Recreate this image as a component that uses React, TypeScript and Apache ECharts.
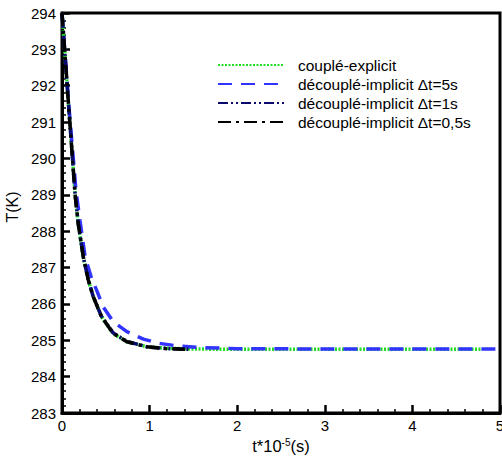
import React, { useEffect, useRef } from "react";
import * as echarts from "echarts";

const seriesNames = [
  "couplé-explicit",
  "découplé-implicit Δt=5s",
  "découplé-implicit Δt=1s",
  "découplé-implicit Δt=0,5s",
];

// couplé-explicit (green dotted)
const greenT = [0, 0.08, 0.15, 0.185, 0.24, 0.3, 0.355, 0.45, 0.58, 0.74, 0.97, 1.2, 1.5, 2, 3, 4, 4.8];
const greenV = [294, 291.3, 289.0, 288.2, 287.3, 286.66, 286.2, 285.65, 285.19, 284.96, 284.82, 284.78, 284.76, 284.75, 284.75, 284.75, 284.75];

// découplé-implicit Δt=5s (blue dashed)
const blueT = [0, 0.08, 0.16, 0.205, 0.263, 0.338, 0.395, 0.47, 0.585, 0.74, 0.93, 1.1, 1.3, 1.58, 2.0, 3.0, 4.0, 5.0];
const blueV = [294, 291.4, 289.1, 288.3, 287.3, 286.7, 286.38, 285.92, 285.51, 285.24, 285.03, 284.92, 284.85, 284.8, 284.77, 284.76, 284.76, 284.76];

// découplé-implicit Δt=1s (navy dash-dot-dot)
const navyT = [0, 0.08, 0.15, 0.186, 0.243, 0.3, 0.357, 0.45, 0.585, 0.74, 0.97, 1.2, 1.45];
const navyV = [294, 291.3, 289.0, 288.2, 287.3, 286.66, 286.2, 285.66, 285.2, 284.97, 284.82, 284.77, 284.75];

// découplé-implicit Δt=0,5s (black dash-dot)
const blackT = [0, 0.08, 0.15, 0.186, 0.243, 0.3, 0.357, 0.45, 0.585, 0.74, 0.97, 1.2, 1.42];
const blackV = [294, 291.3, 289.0, 288.2, 287.3, 286.66, 286.2, 285.65, 285.19, 284.96, 284.82, 284.77, 284.75];

const FONT = "'Liberation Sans', Arial, sans-serif";

const zip = (a: number[], b: number[]) => a.map((t, i) => [t, b[i]]);

export default function App() {
  const ref = useRef<HTMLDivElement>(null);
  useEffect(() => {
    const chart = echarts.init(ref.current!, null, { renderer: "svg" });
    const mk = (name: string, data: number[][], color: string, type: any, z: number) => ({
      name,
      type: "line",
      data,
      showSymbol: false,
      symbol: "none",
      smooth: false,
      z,
      lineStyle: { color, width: 3.5, type },
      itemStyle: { color },
    });
    chart.setOption({
      animation: false,
      textStyle: { fontFamily: FONT },
      grid: {
        left: 62,
        right: 2,
        top: 13,
        bottom: 45,
        outerBoundsMode: "none",
        containLabel: false,
        show: true,
        borderColor: "#000",
        borderWidth: 3,
        backgroundColor: "transparent",
      },
      legend: {
        orient: "vertical",
        left: 212,
        top: 52,
        itemWidth: 66,
        itemHeight: 14,
        itemGap: 3,
        itemStyle: { opacity: 0 },
        textStyle: { fontSize: 15.5, color: "#000", fontFamily: FONT, lineHeight: 16, padding: [0, 0, 0, 9] },
        data: seriesNames,
      },
      xAxis: {
        type: "value",
        min: 0,
        max: 5,
        interval: 1,
        name: "{a|t*10}{s|-5}{a|(s)}",
        nameLocation: "middle",
        nameGap: 16,
        nameTextStyle: {
          rich: {
            a: { fontSize: 16.5, color: "#000", fontFamily: FONT, verticalAlign: "bottom" },
            s: { fontSize: 10, color: "#000", fontFamily: FONT, verticalAlign: "top" },
          },
        },
        axisLine: { show: true, onZero: false, lineStyle: { color: "#000", width: 3 } },
        axisTick: { show: true, inside: true, length: 8, lineStyle: { color: "#000", width: 2.5 } },
        minorTick: { show: true, splitNumber: 5, length: 4, lineStyle: { color: "#000", width: 1.5 } },
        axisLabel: { margin: 5, fontSize: 15, color: "#000", fontFamily: FONT },
        splitLine: { show: false },
      },
      yAxis: {
        type: "value",
        min: 283,
        max: 294,
        interval: 1,
        name: "T(K)",
        nameLocation: "middle",
        nameGap: 36,
        nameRotate: 90,
        nameTextStyle: { fontSize: 16, color: "#000", fontFamily: FONT, padding: [0, 0, 0, 12] },
        axisLine: { show: true, onZero: false, lineStyle: { color: "#000", width: 3 } },
        axisTick: { show: true, inside: true, length: 8, lineStyle: { color: "#000", width: 2.5 } },
        minorTick: { show: true, splitNumber: 5, length: 4, lineStyle: { color: "#000", width: 1.5 } },
        axisLabel: { margin: 6, fontSize: 15, color: "#000", fontFamily: FONT },
        splitLine: { show: false },
      },
      series: [
        mk(seriesNames[0], zip(greenT, greenV), "#22dd22", [2, 1.5], 2),
        mk(seriesNames[1], zip(blueT, blueV), "#3333ff", [14, 9], 3),
        mk(seriesNames[2], zip(navyT, navyV), "#0a0a6e", [10, 3, 2, 3, 2, 3], 4),
        mk(seriesNames[3], zip(blackT, blackV), "#000000", [13, 5, 3, 5], 5),
      ],
    });
    return () => chart.dispose();
  }, []);
  return (
    <div
      ref={ref}
      style={{ position: "fixed", left: 0, top: 0, width: 502, height: 458, background: "#fff" }}
    />
  );
}
